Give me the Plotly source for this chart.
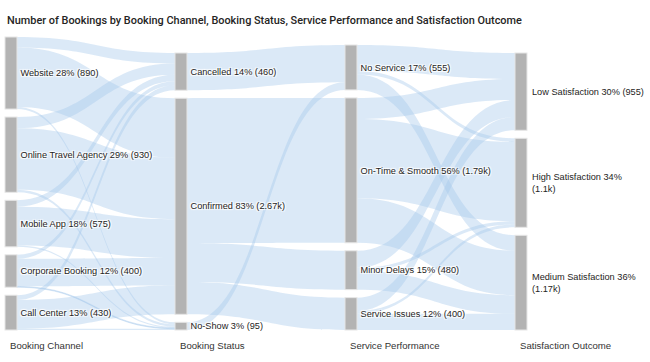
import plotly.graph_objects as go

# ---- data ----
channels = ["Website", "Online Travel Agency", "Mobile App", "Corporate Booking", "Call Center"]
statuses = ["Cancelled", "Confirmed", "No-Show"]
services = ["No Service", "On-Time & Smooth", "Minor Delays", "Service Issues"]
outcomes = ["Low Satisfaction", "High Satisfaction", "Medium Satisfaction"]
column_titles = ["Booking Channel", "Booking Status", "Service Performance", "Satisfaction Outcome"]

# channel -> status (rows: channels, cols: Cancelled, Confirmed, No-Show)
channel_status = [
    [130, 735, 25],
    [140, 760, 30],
    [80, 480, 15],
    [50, 340, 10],
    [60, 355, 15],
]
# status -> service (rows: statuses, cols: services)
status_service = [
    [460, 0, 0, 0],
    [0, 1790, 480, 400],
    [95, 0, 0, 0],
]
# service -> outcome (rows: services, cols: Low, High, Medium)
service_outcome = [
    [320, 45, 190],
    [260, 980, 550],
    [210, 40, 230],
    [165, 35, 200],
]

title_text = ("Number of Bookings by Booking Channel, Booking Status, "
              "Service Performance and Satisfaction Outcome")

# ---- build ----
columns = [channels, statuses, services, outcomes]
matrices = [channel_status, status_service, service_outcome]

offsets = []
o = 0
for col in columns:
    offsets.append(o)
    o += len(col)

src, tgt, val = [], [], []
for ci, m in enumerate(matrices):
    for i, row in enumerate(m):
        for j, v in enumerate(row):
            if v > 0:
                src.append(offsets[ci] + i)
                tgt.append(offsets[ci + 1] + j)
                val.append(v)

col_totals = [
    [sum(r) for r in channel_status],
    [sum(channel_status[i][j] for i in range(len(channels))) for j in range(len(statuses))],
    [sum(status_service[i][j] for i in range(len(statuses))) for j in range(len(services))],
    [sum(service_outcome[i][j] for i in range(len(services))) for j in range(len(outcomes))],
]
total = sum(col_totals[0])


def fmt(v):
    return f"{v/1000:.3g}k" if v >= 1000 else str(v)


# ---- geometry of the sankey area (pixels) ----
W, H = 650, 362
ml, mr, mt, mb = 5, 123, 37, 32
plot_w = W - ml - mr
plot_h = H - mt - mb
node_w = 12
pad = 8
max_nodes = max(len(c) for c in columns)
ky = (plot_h - (max_nodes - 1) * pad) / total
ncol = len(columns)

label_font = dict(family="Liberation Sans, Arial, sans-serif", size=9.2, color="#252423")

labels, xs, ys = [], [], []
side_labels = []  # labels of the last column, drawn to the right of the nodes
for ci, (names, tots) in enumerate(zip(columns, col_totals)):
    # columns are aligned at the bottom of the area
    col_h = ky * sum(tots) + (len(tots) - 1) * pad
    y = plot_h - col_h
    xc = node_w / 2 + ci * (plot_w - node_w) / (ncol - 1)
    for n, t in zip(names, tots):
        h = ky * t
        xs.append(xc / plot_w)
        ys.append((y + h / 2) / plot_h)
        pct = round(100 * t / total)
        s = f"{n} {pct}% ({fmt(t)})"
        if ci == ncol - 1:
            if len(s) > 26:
                s = f"{n} {pct}%<br>({fmt(t)})"
            side_labels.append((s, (xc + node_w / 2 + 3) / plot_w, 1 - (y + h / 2) / plot_h))
            labels.append("")
        else:
            labels.append(s)
        y += h + pad

fig = go.Figure(go.Sankey(
    arrangement="fixed",
    node=dict(
        label=labels,
        x=xs, y=ys,
        pad=pad,
        thickness=node_w,
        color="#b3b3b3",
        line=dict(color="#e6e6e6", width=1),
    ),
    link=dict(
        source=src, target=tgt, value=val,
        color="rgba(166,199,236,0.4)",
    ),
    textfont=label_font,
    domain=dict(x=[0, 1], y=[0, 1]),
))

for s, x, y in side_labels:
    fig.add_annotation(
        x=x, y=y, xref="paper", yref="paper", text=s, showarrow=False,
        xanchor="left", yanchor="middle", align="left", font=label_font,
    )

for i, t in enumerate(column_titles):
    xpx = i * (plot_w - node_w) / (ncol - 1)
    fig.add_annotation(
        x=(xpx + 3) / plot_w, y=-15 / plot_h, xref="paper", yref="paper",
        text=t, showarrow=False, xanchor="left", yanchor="middle",
        font=dict(family="Liberation Sans, Arial, sans-serif", size=9.6, color="#333333"),
    )

fig.update_layout(
    width=W, height=H,
    margin=dict(l=ml, r=mr, t=mt, b=mb),
    paper_bgcolor="white",
    title=dict(
        text=title_text, x=7 / W, xref="container", xanchor="left",
        y=1 - 20 / H, yref="container", yanchor="middle",
        font=dict(family="Roboto, sans-serif", size=10.9, color="#252423", weight=500),
    ),
)

fig.write_html("out.html", config={"displayModeBar": False},
               post_script="document.body.style.margin='0';")
